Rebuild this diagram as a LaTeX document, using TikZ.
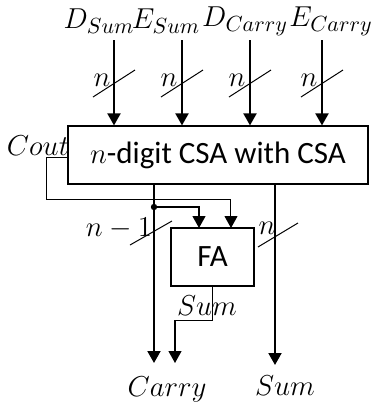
\documentclass[tikz,border=0pt]{standalone}
\usepackage{fontspec}
\newfontfamily\calibri{Carlito}
\usetikzlibrary{arrows.meta}
\DeclareMathSizes{14}{14}{11}{8}

\tikzset{
	blk/.style={draw, line width=0.6pt, inner sep=0pt,
		font=\calibri\fontsize{15.5}{17}\selectfont},
	bus/.style={line width=1pt, -{Triangle[width=6.5pt,length=6pt]}},
	wire/.style={line width=0.6pt, -{Triangle[width=6.5pt,length=6pt]}},
	slash/.style={line width=0.5pt},
	lbl/.style={inner sep=0pt, font=\fontsize{14}{16}\selectfont},
}

\begin{document}
\begin{tikzpicture}[x=0.5pt, y=-0.5pt]
	\useasboundingbox (0,0) rectangle (371,409);

	\node[blk, minimum width=150pt, minimum height=29pt] (csa) at (218,155) {$n$-digit CSA with CSA};
	\node[blk, minimum width=41.5pt, minimum height=29pt] (fa) at (212.5,257) {FA};

	% operands
	\node[lbl] (dsum) at (99,21) {$D_{Sum}$};
	\node[lbl] (esum) at (166,21) {$E_{Sum}$};
	\node[lbl] (dcarry) at (245,21) {$D_{Carry}$};
	\node[lbl] (ecarry) at (331,21) {$E_{Carry}$};

	\coordinate (i1) at (114,40);
	\coordinate (i2) at (182,40);
	\coordinate (i3) at (250,40);
	\coordinate (i4) at (322,40);

	\draw[bus] (i1) -- (i1 |- csa.north);
	\draw[bus] (i2) -- (i2 |- csa.north);
	\draw[bus] (i3) -- (i3 |- csa.north);
	\draw[bus] (i4) -- (i4 |- csa.north);

	\draw[slash] (93,97) -- (135,70);
	\draw[slash] (161,97) -- (203,70);
	\draw[slash] (229,97) -- (271,70);
	\draw[slash] (301,97) -- (343,70);
	\node[lbl] (n1) at (102,80) {$n$};
	\node[lbl] (n2) at (169,80) {$n$};
	\node[lbl] (n3) at (237,80) {$n$};
	\node[lbl] (n4) at (309,80) {$n$};

	% carry out fed back to the FA
	\node[lbl] (cout) at (38,146) {$Cout$};
	\coordinate (co) at (68,157);
	\coordinate (fain1) at (199,228);
	\coordinate (fain2) at (231,228);
	\draw[wire, line width=0.5pt] (co) -- (47,157) -- (47,199) -| (fain2);

	\coordinate (tap) at (154,207);
	\fill (tap) circle (1.6pt);
	\draw[wire] (tap) -| (fain1);

	% outputs
	\coordinate (cy) at (154,363);
	\coordinate (sm) at (275,365);
	\coordinate (fs) at (175,363);
	\draw[bus] (cy |- csa.south) -- (cy);
	\draw[bus] (sm |- csa.south) -- (sm);
	\draw[wire] (fa.south) -- ++(0,34) -| (fs);

	\draw[slash] (130,245) -- (172,221);
	\draw[slash] (258,247) -- (298,223);
	\node[lbl] (nm1) at (119,228) {$n-1$};
	\node[lbl] (n5) at (267,228) {$n$};
	\node[lbl] (fasum) at (207,306) {$Sum$};

	\node[lbl] (carry) at (167,389) {$Carry$};
	\node[lbl] (sum) at (285,386) {$Sum$};
\end{tikzpicture}
\end{document}
